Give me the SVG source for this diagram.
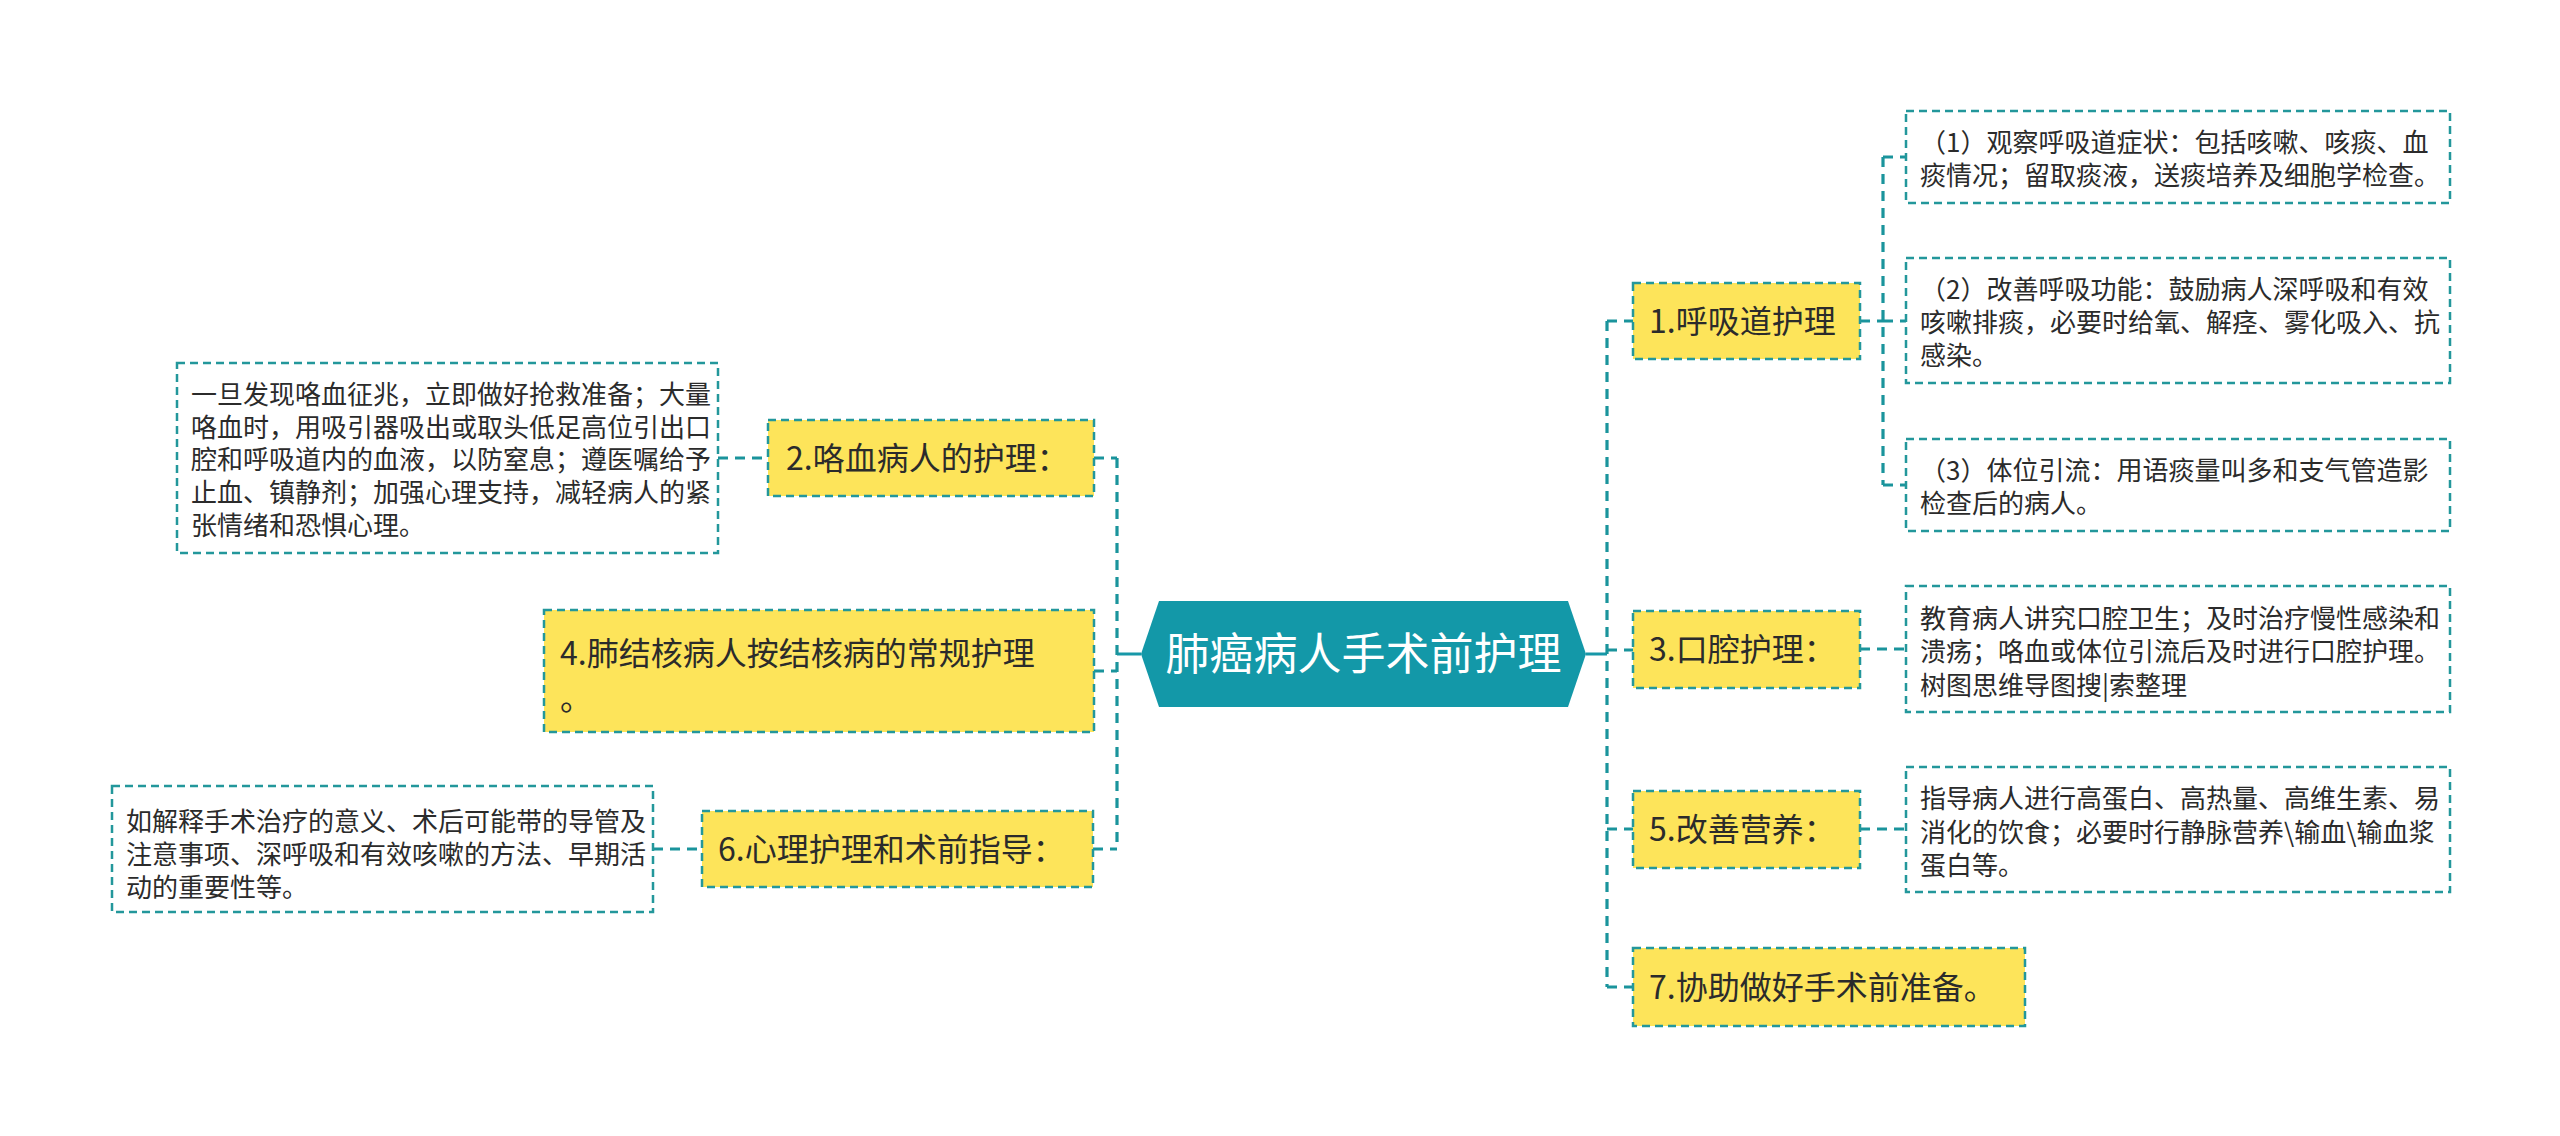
<svg xmlns="http://www.w3.org/2000/svg" width="2560" height="1136" viewBox="0 0 2560 1136">
<style>
text{font-family:"Noto Sans CJK SC","Noto Sans",sans-serif;fill:#2b2b2b}
.main{fill:#fde45a;stroke:#23979b;stroke-width:2.5;stroke-dasharray:8 5}
.det{fill:#ffffff;stroke:#23979b;stroke-width:2.5;stroke-dasharray:8 5}
.mt{font-size:32px}
.dt{font-size:26px}
.ct{font-size:44px;fill:#ffffff}
.con{fill:none;stroke:#1a949c;stroke-width:3.2;stroke-dasharray:10 7}
.solid{fill:none;stroke:#1798a8;stroke-width:3}
</style>
<rect width="2560" height="1136" fill="#ffffff"/>
<g id="connectors">
<path class="solid" d="M1141 654H1117M1586 654H1607"/>
<path class="con" d="M1117 458V849M1094 458H1117M1094 671H1117M1093 849H1117"/>
<path class="con" d="M1607 321V987M1607 321H1633M1607 650H1633M1607 829H1633M1607 987H1633"/>
<path class="con" d="M1860 321H1883M1883 157V485M1883 157H1906M1883 321H1906M1883 485H1906"/>
<path class="con" d="M1860 649H1906M1860 829H1906"/>
<path class="con" d="M718 458H768M653 849H702"/>
</g>
<g id="center">
<polygon points="1141,654 1159,601 1568,601 1586,654 1568,707 1159,707" fill="#1398a8"/>
<text class="ct" x="1363.5" y="670" text-anchor="middle">肺癌病人手术前护理</text>
</g>
<g id="n1">
<rect class="main" x="1633" y="283" width="227" height="76"/>
<text class="mt" x="1649" y="333">1.呼吸道护理</text>
</g>
<g id="n1a">
<rect class="det" x="1906" y="111" width="544" height="92"/>
<text class="dt" x="1920" y="152">（1）观察呼吸道症状：包括咳嗽、咳痰、血</text>
<text class="dt" x="1920" y="185">痰情况；留取痰液，送痰培养及细胞学检查。</text>
</g>
<g id="n1b">
<rect class="det" x="1906" y="258" width="544" height="125"/>
<text class="dt" x="1920" y="299">（2）改善呼吸功能：鼓励病人深呼吸和有效</text>
<text class="dt" x="1920" y="332">咳嗽排痰，必要时给氧、解痉、雾化吸入、抗</text>
<text class="dt" x="1920" y="365">感染。</text>
</g>
<g id="n1c">
<rect class="det" x="1906" y="439" width="544" height="92"/>
<text class="dt" x="1920" y="480">（3）体位引流：用语痰量叫多和支气管造影</text>
<text class="dt" x="1920" y="513">检查后的病人。</text>
</g>
<g id="n3">
<rect class="main" x="1633" y="611" width="227" height="77"/>
<text class="mt" x="1649" y="661">3.口腔护理：</text>
</g>
<g id="n3a">
<rect class="det" x="1906" y="586" width="544" height="126"/>
<text class="dt" x="1920" y="628">教育病人讲究口腔卫生；及时治疗慢性感染和</text>
<text class="dt" x="1920" y="661">溃疡；咯血或体位引流后及时进行口腔护理。</text>
<text class="dt" x="1920" y="695">树图思维导图搜|索整理</text>
</g>
<g id="n5">
<rect class="main" x="1633" y="791" width="227" height="77"/>
<text class="mt" x="1649" y="841">5.改善营养：</text>
</g>
<g id="n5a">
<rect class="det" x="1906" y="767" width="544" height="125"/>
<text class="dt" x="1920" y="808">指导病人进行高蛋白、高热量、高维生素、易</text>
<text class="dt" x="1920" y="842">消化的饮食；必要时行静脉营养\输血\输血浆</text>
<text class="dt" x="1920" y="875">蛋白等。</text>
</g>
<g id="n7">
<rect class="main" x="1633" y="948" width="392" height="78"/>
<text class="mt" x="1649" y="999">7.协助做好手术前准备。</text>
</g>
<g id="n2">
<rect class="main" x="768" y="420" width="326" height="76"/>
<text class="mt" x="786" y="470">2.咯血病人的护理：</text>
</g>
<g id="n2a">
<rect class="det" x="177" y="363" width="541" height="190"/>
<text class="dt" x="191" y="404">一旦发现咯血征兆，立即做好抢救准备；大量</text>
<text class="dt" x="191" y="437">咯血时，用吸引器吸出或取头低足高位引出口</text>
<text class="dt" x="191" y="469">腔和呼吸道内的血液，以防窒息；遵医嘱给予</text>
<text class="dt" x="191" y="502">止血、镇静剂；加强心理支持，减轻病人的紧</text>
<text class="dt" x="191" y="535">张情绪和恐惧心理。</text>
</g>
<g id="n4">
<rect class="main" x="544" y="610" width="550" height="122"/>
<text class="mt" x="560" y="665">4.肺结核病人按结核病的常规护理</text>
<text class="mt" x="560" y="710">。</text>
</g>
<g id="n6">
<rect class="main" x="702" y="811" width="391" height="76"/>
<text class="mt" x="718" y="861">6.心理护理和术前指导：</text>
</g>
<g id="n6a">
<rect class="det" x="112" y="786" width="541" height="126"/>
<text class="dt" x="126" y="831">如解释手术治疗的意义、术后可能带的导管及</text>
<text class="dt" x="126" y="864">注意事项、深呼吸和有效咳嗽的方法、早期活</text>
<text class="dt" x="126" y="897">动的重要性等。</text>
</g>
</svg>
